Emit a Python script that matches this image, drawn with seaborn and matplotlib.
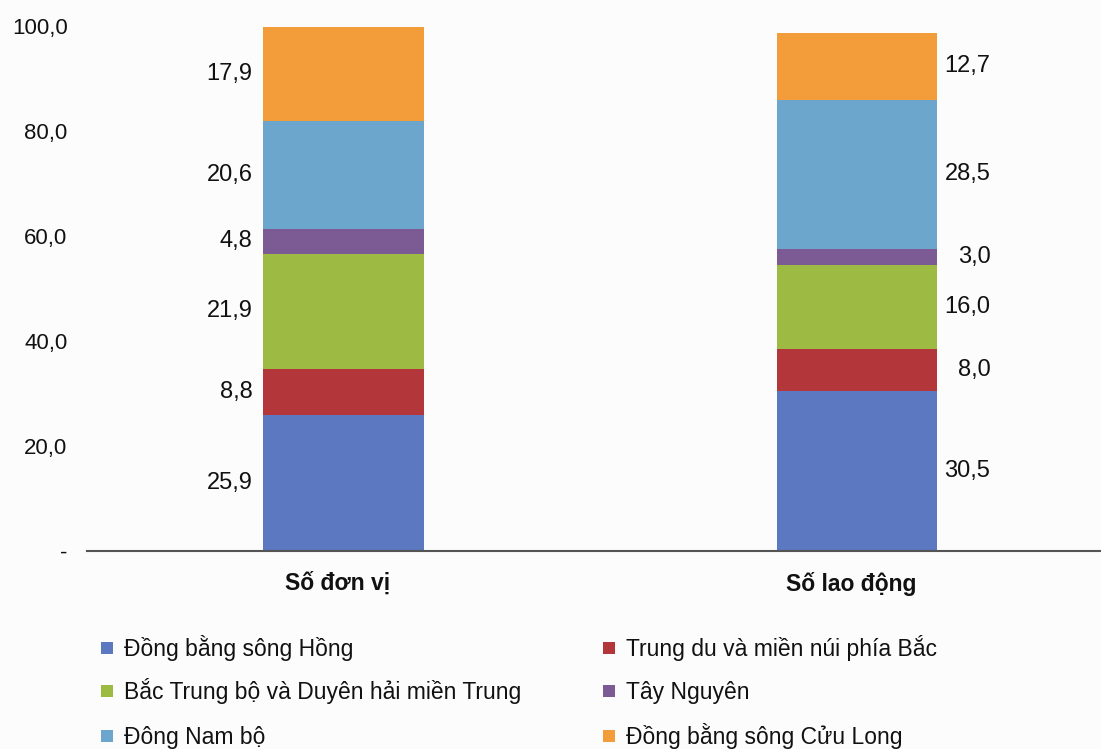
import matplotlib
matplotlib.use("Agg")
import matplotlib.pyplot as plt
import matplotlib.transforms as mtransforms
import seaborn as sns
import pandas as pd
import numpy as np
from matplotlib.patches import Rectangle

categories = ["Số đơn vị", "Số lao động"]
regions = [
    "Đồng bằng sông Hồng",
    "Trung du và miền núi phía Bắc",
    "Bắc Trung bộ và Duyên hải miền Trung",
    "Tây Nguyên",
    "Đông Nam bộ",
    "Đồng bằng sông Cửu Long",
]
so_don_vi = [25.9, 8.8, 21.9, 4.8, 20.6, 17.9]
so_lao_dong = [30.5, 8.0, 16.0, 3.0, 28.5, 12.7]
colors = ["#5B78C0", "#B3363B", "#9DBB43", "#7C5A94", "#6CA6CD", "#F39C3A"]
yticks = [0, 20, 40, 60, 80, 100]
ytick_labels = ["-", "20,0", "40,0", "60,0", "80,0", "100,0"]

sns.set_theme(style="white")
plt.rcParams["font.family"] = ["Liberation Sans", "DejaVu Sans"]

W, H = 1101, 749
fig = plt.figure(figsize=(W / 100, H / 100), dpi=100)
bg = "#fcfcfc"
fig.patch.set_facecolor(bg)
ax = fig.add_axes([87 / W, (H - 551) / H, (W - 87) / W, (551 - 26) / H])
ax.set_facecolor(bg)

rows = []
for cat, vals in zip(categories, [so_don_vi, so_lao_dong]):
    cum = np.cumsum(vals)
    for r, v, c in zip(regions, vals, cum):
        rows.append({"cat": cat, "region": r, "value": v, "top": c, "bottom": c - v})
df = pd.DataFrame(rows)

# draw cumulative tops from top layer down so lower layers overlay
for r, col in reversed(list(zip(regions, colors))):
    sub = df[df["region"] == r]
    sns.barplot(data=sub, x="cat", y="top", order=categories, color=col,
                width=0.313, saturation=1, ax=ax, linewidth=0, zorder=2)

ax.set_xlim(-0.5, 1.475)
ax.set_ylim(0, 100)
ax.set_yticks(yticks)
ax.set_yticklabels(ytick_labels)
ax.set_xlabel("")
ax.set_ylabel("")
for s in ["top", "right", "left"]:
    ax.spines[s].set_visible(False)
ax.spines["bottom"].set_color("#555555")
ax.spines["bottom"].set_linewidth(1.5)
ax.tick_params(axis="y", length=0, pad=14, labelsize=16, colors="#111111")
ax.tick_params(axis="x", length=0, pad=15, labelsize=16.5, colors="#111111")
shift = mtransforms.ScaledTranslation(-6 / 100, 0, fig.dpi_scale_trans)
for t in ax.get_xticklabels():
    t.set_fontweight("bold")
    t.set_transform(t.get_transform() + shift)

def fmt(v):
    return f"{v:.1f}".replace(".", ",")

# labels
bw = 0.313
for i, cat in enumerate(categories):
    sub = df[df["cat"] == cat]
    for _, row in sub.iterrows():
        yc = (row["top"] + row["bottom"]) / 2
        if i == 0:
            ax.text(i - bw / 2 - 0.021, yc, fmt(row["value"]), ha="right", va="center",
                    fontsize=17, color="#111111")
        else:
            ax.text(i + bw / 2 + 0.103, yc, fmt(row["value"]), ha="right", va="center",
                    fontsize=17, color="#111111")

# legend (row-major, two columns), drawn in figure pixel coordinates
col_x = [101, 603]
row_y = [648, 691, 736]
msize = 12
for k, (r, c) in enumerate(zip(regions, colors)):
    cx = col_x[k % 2]
    cy = row_y[k // 2]
    fig.add_artist(Rectangle((cx / W, 1 - (cy + msize / 2) / H), msize / W, msize / H,
                             transform=fig.transFigure, facecolor=c, edgecolor="none"))
    fig.text((cx + 23) / W, 1 - (cy + 8.2) / H, r, ha="left", va="baseline",
             fontsize=16.5, color="#111111")

fig.savefig("out.png", dpi=100, facecolor=bg)
